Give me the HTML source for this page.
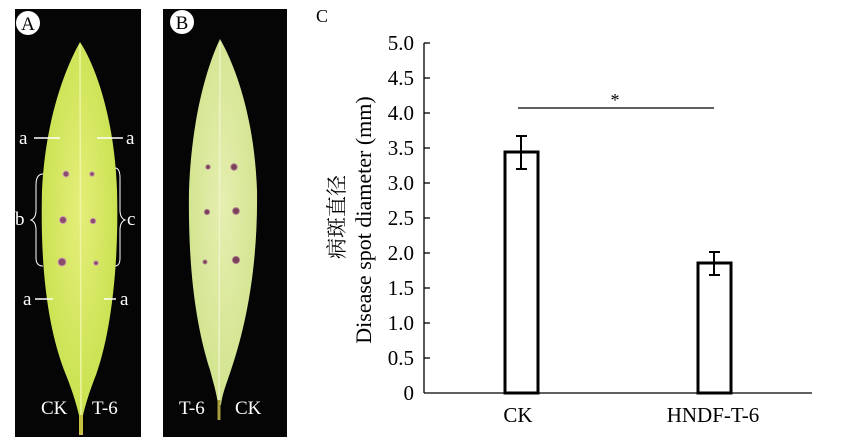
<!DOCTYPE html>
<html><head><meta charset="utf-8"><style>
body{margin:0;background:#fff;}
svg{display:block;}
text{font-family:"Liberation Serif","Noto Serif CJK SC",serif;}
</style></head><body>
<svg width="862" height="437" viewBox="0 0 862 437" font-family="Liberation Serif, Noto Serif CJK SC, serif">
<defs>
<radialGradient id="ga" cx="50%" cy="45%" r="60%"><stop offset="0" stop-color="#e4ee7a"/><stop offset="1" stop-color="#c6e04a"/></radialGradient>
<radialGradient id="gb" cx="50%" cy="45%" r="60%"><stop offset="0" stop-color="#e6eeb0"/><stop offset="1" stop-color="#cfe38a"/></radialGradient>
</defs>
<!-- Panel A -->
<rect x="15" y="9" width="126" height="428" fill="#050505"/>
<path d="M80,42 C70,60 46,110 42,190 C40,270 48,330 66,375 C74,395 78,410 80,420 L82,420 C84,410 88,395 96,375 C112,330 119,260 117,190 C114,110 92,60 80,42 Z" fill="url(#ga)"/>
<line x1="80" y1="45" x2="81" y2="425" stroke="#eef5a0" stroke-width="1.5"/>
<line x1="81" y1="415" x2="81" y2="435" stroke="#c8c040" stroke-width="4"/>
<g fill="#8a4a6a" stroke="#cfa0b0" stroke-width="1">
<circle cx="66" cy="174" r="3"/><circle cx="92" cy="174" r="2.3"/>
<circle cx="63" cy="220" r="3.5"/><circle cx="93" cy="221" r="2.8"/>
<circle cx="62" cy="262" r="4"/><circle cx="96" cy="263" r="2.3"/>
</g>
<g stroke="#fff" stroke-width="1.5" fill="none">
<line x1="34" y1="138" x2="60" y2="138"/><line x1="97" y1="138" x2="123" y2="138"/>
<line x1="35" y1="299" x2="53" y2="299"/><line x1="104" y1="299" x2="116" y2="299"/>
<path d="M43,174 Q36,174 36,185 L36,210 Q36,218 31,220 Q36,222 36,230 L36,258 Q36,266 43,266" stroke-width="1"/>
<path d="M115,168 Q120,168 120,178 L120,210 Q120,218 125,220 Q120,222 120,230 L120,258 Q120,266 115,266" stroke-width="1"/>
</g>
<g fill="#fff" font-size="19">
<text x="19" y="144">a</text><text x="126" y="144">a</text>
<text x="23" y="305">a</text><text x="120" y="305">a</text>
<text x="15" y="225">b</text><text x="127" y="225">c</text>
<text x="41" y="414">CK</text><text x="92" y="414">T-6</text>
</g>
<circle cx="28" cy="23" r="12" fill="#fff"/>
<text x="28" y="30" font-size="19" text-anchor="middle" fill="#000">A</text>
<!-- Panel B -->
<rect x="163" y="9" width="124" height="428" fill="#050505"/>
<path d="M220,39 C210,60 192,110 189,190 C188,260 194,320 210,370 C214,385 217,395 218,405 L221,405 C222,395 226,385 231,370 C248,320 258,260 257,190 C254,110 232,60 220,39 Z" fill="url(#gb)"/>
<line x1="220" y1="42" x2="219" y2="412" stroke="#f0f4cc" stroke-width="1.3"/>
<line x1="219" y1="400" x2="219" y2="420" stroke="#a8a040" stroke-width="3"/>
<g fill="#7a4058" stroke="#b08090" stroke-width="1">
<circle cx="208" cy="167" r="2.2"/><circle cx="234" cy="167" r="3.2"/>
<circle cx="207" cy="212" r="2.6"/><circle cx="236" cy="211" r="3.4"/>
<circle cx="205" cy="262" r="2"/><circle cx="236" cy="260" r="3.6"/>
</g>
<g fill="#fff" font-size="19">
<text x="179" y="414">T-6</text><text x="235" y="414">CK</text>
</g>
<circle cx="182" cy="22" r="12" fill="#fff"/>
<text x="182" y="29" font-size="19" text-anchor="middle" fill="#000">B</text>
<!-- Panel C -->
<text x="316" y="22" font-size="18">C</text>
<g stroke="#000" stroke-width="1.3" fill="none">
<line x1="424" y1="43" x2="424" y2="393"/>
<line x1="424" y1="393" x2="812" y2="393"/>
<line x1="424" y1="43" x2="430" y2="43"/><line x1="424" y1="78" x2="430" y2="78"/><line x1="424" y1="113" x2="430" y2="113"/><line x1="424" y1="148" x2="430" y2="148"/><line x1="424" y1="183" x2="430" y2="183"/><line x1="424" y1="218" x2="430" y2="218"/><line x1="424" y1="253" x2="430" y2="253"/><line x1="424" y1="288" x2="430" y2="288"/><line x1="424" y1="323" x2="430" y2="323"/><line x1="424" y1="358" x2="430" y2="358"/>
</g>
<g font-size="21" text-anchor="end">
<text x="414" y="50">5.0</text><text x="414" y="85">4.5</text><text x="414" y="120">4.0</text><text x="414" y="155">3.5</text><text x="414" y="190">3.0</text><text x="414" y="225">2.5</text><text x="414" y="260">2.0</text><text x="414" y="295">1.5</text><text x="414" y="330">1.0</text><text x="414" y="365">0.5</text><text x="414" y="400">0</text>
</g>
<g stroke="#000" stroke-width="3" fill="#fff">
<rect x="505" y="152" width="33" height="241"/>
<rect x="698" y="263" width="33" height="130"/>
</g>
<g stroke="#000" stroke-width="2">
<line x1="521" y1="136" x2="521" y2="169"/><line x1="516" y1="136" x2="527" y2="136"/><line x1="516" y1="169" x2="527" y2="169"/>
<line x1="714" y1="252" x2="714" y2="275"/><line x1="709" y1="252" x2="720" y2="252"/><line x1="709" y1="275" x2="720" y2="275"/>
</g>
<line x1="518" y1="108" x2="714" y2="108" stroke="#000" stroke-width="1.2"/>
<text x="615" y="106" font-size="18" text-anchor="middle">*</text>
<text x="518" y="422" font-size="21" text-anchor="middle">CK</text>
<text x="713" y="422" font-size="21" text-anchor="middle">HNDF-T-6</text>
<text transform="translate(371,220) rotate(-90)" font-size="22" text-anchor="middle">Disease spot diameter (mm)</text>
<text transform="translate(344,217) rotate(-90)" font-size="21" text-anchor="middle">病斑直径</text>
</svg>
</body></html>
